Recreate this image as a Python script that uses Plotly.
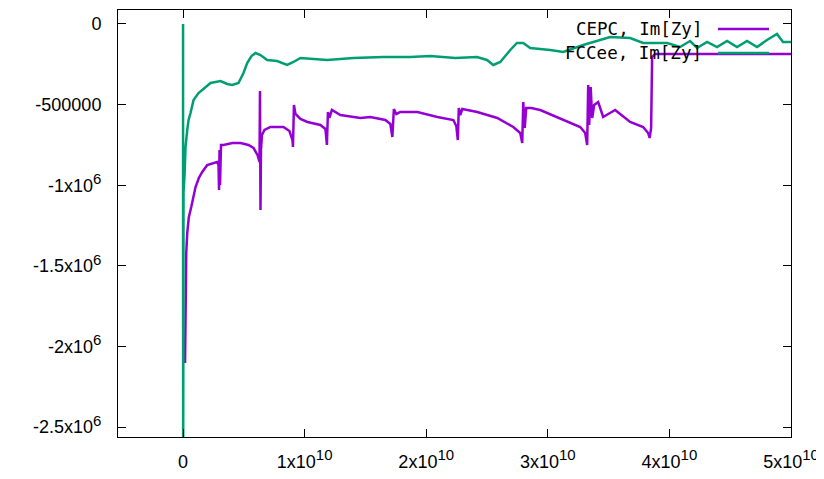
import plotly.graph_objects as go

# CEPC, Im[Zy]  (x in units of 1e10)
cepc_x = [0.0164, 0.0205, 0.0263, 0.0345, 0.0477, 0.0674, 0.0838, 0.1027, 0.1298, 0.1578,
          0.1988, 0.2424, 0.2794, 0.2917, 0.2958, 0.2999, 0.3040, 0.3122, 0.3328, 0.4067,
          0.4725, 0.5382, 0.5793, 0.6122, 0.6286, 0.6327, 0.6368, 0.6409, 0.6491, 0.6697,
          0.7190, 0.8258, 0.8751, 0.8998, 0.9039, 0.9121, 0.9245, 0.9655, 1.0230, 1.1298,
          1.1709, 1.1832, 1.1915, 1.2038, 1.2243, 1.2942, 1.4585, 1.5407, 1.6639, 1.7050,
          1.7214, 1.7338, 1.7543, 1.7872, 1.9269, 2.0912, 2.2227, 2.2473, 2.2596, 2.2679,
          2.2802, 2.2966, 2.4199, 2.5842, 2.7157, 2.7732, 2.7896, 2.7979, 2.8102, 2.8225,
          2.8636, 2.9376, 3.1265, 3.2662, 3.3073, 3.3237, 3.3320, 3.3402, 3.3525, 3.3648,
          3.3813, 3.4141, 3.4552, 3.5538, 3.6771, 3.7839, 3.8250, 3.8373, 3.8496, 3.8578,
          3.8824, 5.0000]
cepc_y = [-2103000, -1712000, -1420600, -1296500, -1197300, -1135200, -1079400, -1011200, -955300, -918100,
          -874700, -862300, -856100, -874700, -1029800, -781600, -998800, -750600, -750600, -738200,
          -738200, -750600, -769200, -812700, -856100, -415600, -1153900, -781600, -688600, -657600,
          -639000, -639000, -663800, -719600, -763000, -502500, -558300, -589300, -607900, -626500,
          -651300, -750600, -545900, -583100, -533500, -564500, -583100, -576900, -595500, -620400,
          -701000, -527300, -558300, -545900, -545900, -576900, -595500, -632800, -719600, -521100,
          -564500, -527300, -545900, -583100, -639000, -676200, -738200, -483900, -645200, -521100,
          -521100, -533500, -595500, -639000, -676200, -750600, -378400, -626500, -390800, -583100,
          -502500, -483900, -576900, -533500, -607900, -639000, -676200, -707200, -645200, -204700,
          -186100, -186100]

# FCCee, Im[Zy]
fcc_x = [0.0, 0.0008, 0.0041, 0.0123, 0.0205, 0.0345, 0.0452, 0.0616, 0.0863, 0.1274,
         0.1849, 0.2260, 0.3081, 0.3632, 0.4043, 0.4560, 0.4971, 0.5275, 0.5629, 0.5957,
         0.6368, 0.6919, 0.7740, 0.8562, 0.9080, 0.9655, 1.1849, 1.4010, 1.6475, 1.8693,
         2.0337, 2.2391, 2.4174, 2.4996, 2.5514, 2.6089, 2.6911, 2.7461, 2.7979, 2.8554,
         3.0197, 3.1265, 3.2908, 3.5127, 3.6771, 3.7839, 3.8989, 3.9811, 4.0879, 4.1701,
         4.2276, 4.3098, 4.3919, 4.4741, 4.5563, 4.6384, 4.7206, 4.8028, 4.8849, 4.9342,
         5.0000]
fcc_y = [0, -2900000, -1042000, -936700, -763000, -657600, -595500, -552100, -471500, -428000,
         -390800, -366000, -353600, -372200, -378400, -366000, -304000, -241900, -198500, -179900,
         -192300, -223300, -229500, -254300, -235700, -210900, -223300, -210900, -204700, -204700,
         -198500, -210900, -204700, -223300, -254300, -235700, -161300, -117900, -117900, -148900,
         -161300, -173700, -130300, -80600, -86800, -117900, -117900, -117900, -142700, -105500,
         -148900, -111700, -142700, -105500, -142700, -105500, -142700, -99300, -62000, -111700,
         -111700]

SUP = '<sup><span style="font-size:15px">{}</span></sup>'
x_tickvals = [0, 1e10, 2e10, 3e10, 4e10, 5e10]
x_ticktext = ["0"] + [f"{m}x10" + SUP.format("10") for m in (1, 2, 3, 4, 5)]
y_tickvals = [0, -500000, -1000000, -1500000, -2000000, -2500000]
y_ticktext = ["0", "-500000"] + [f"-{m}x10" + SUP.format("6") for m in ("1", "1.5", "2", "2.5")]

series_names = ["CEPC, Im[Zy]", "FCCee, Im[Zy]"]
colors = ["#9400D3", "#009E73"]

fig = go.Figure()
fig.add_trace(go.Scatter(x=[v * 1e10 for v in cepc_x], y=cepc_y, mode="lines",
                         line=dict(color=colors[0], width=2.5), name=series_names[0],
                         showlegend=False))
fig.add_trace(go.Scatter(x=[v * 1e10 for v in fcc_x], y=fcc_y, mode="lines",
                         line=dict(color=colors[1], width=2.5), name=series_names[1],
                         showlegend=False))

axis_common = dict(showline=True, linecolor="black", linewidth=1, mirror="allticks",
                   ticks="inside", ticklen=8, tickcolor="black", tickwidth=1,
                   showgrid=False, zeroline=False,
                   tickfont=dict(family="Liberation Sans, Arial, sans-serif", size=18, color="black"))

fig.update_xaxes(range=[-0.535e10, 5e10], tickvals=x_tickvals, ticktext=x_ticktext,
                 ticklabelstandoff=8, **axis_common)
fig.update_yaxes(range=[-2562000, 86800], tickvals=y_tickvals, ticktext=y_ticktext,
                 ticklabelstandoff=12, **axis_common)

# gnuplot-style key: text right-aligned, sample line to the right
key_rows_y = [0.9555, 0.8993]
for name, col, ky in zip(series_names, colors, key_rows_y):
    fig.add_annotation(xref="paper", yref="paper", x=0.8707, y=ky, text=name,
                       showarrow=False, xanchor="right", yanchor="middle",
                       font=dict(family="DejaVu Sans Mono, monospace", size=17.5, color="black"))
    fig.add_shape(type="line", xref="paper", yref="paper", x0=0.8915, x1=0.9673,
                  y0=ky, y1=ky, line=dict(color=col, width=2.5))

fig.update_layout(width=824, height=479, margin=dict(l=110, r=41, t=2, b=50),
                  plot_bgcolor="white", paper_bgcolor="white", showlegend=False)

fig.write_html("out.html")
